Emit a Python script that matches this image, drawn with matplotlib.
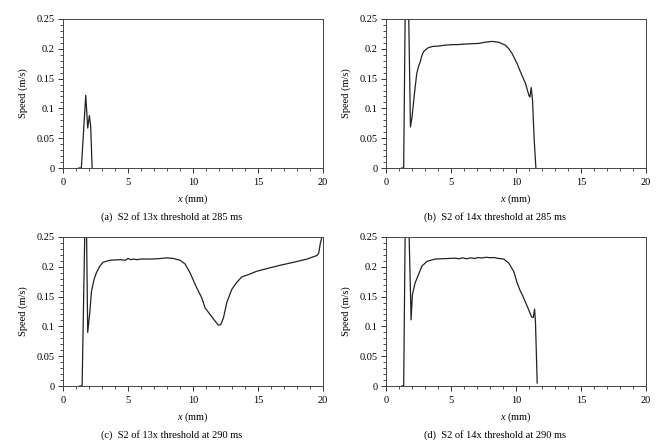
import matplotlib.pyplot as plt
from matplotlib.ticker import MultipleLocator, FuncFormatter

plt.rcParams['font.family'] = ['Liberation Serif', 'DejaVu Serif']
plt.rcParams['mathtext.fontset'] = 'custom'
plt.rcParams['mathtext.it'] = 'Liberation Serif:italic'
plt.rcParams['mathtext.rm'] = 'Liberation Serif'

# ---- data ----
xa = [1.21, 1.41, 1.75, 1.90, 2.03, 2.13, 2.24]
ya = [0.0, 0.0, 0.122, 0.067, 0.088, 0.070, 0.0]

xb = [1.21, 1.36, 1.47, 1.62, 1.75, 1.88, 2.00, 2.11, 2.24, 2.37, 2.50, 2.63, 2.75, 2.88,
      3.08, 3.27, 3.60, 4.04, 4.50, 5.07, 5.50, 6.10, 6.60, 7.13, 7.60, 8.16, 8.67, 9.19,
      9.45, 9.70, 10.09, 10.35, 10.73, 10.99, 11.07, 11.17, 11.27, 11.40, 11.53]
yb = [0.0, 0.0, 0.25, 0.30, 0.25, 0.069, 0.085, 0.108, 0.135, 0.159, 0.170, 0.178, 0.188, 0.195,
      0.199, 0.202, 0.204, 0.2046, 0.206, 0.207, 0.207, 0.208, 0.2085, 0.209, 0.211, 0.2124, 0.211, 0.206,
      0.200, 0.192, 0.175, 0.161, 0.142, 0.122, 0.119, 0.135, 0.114, 0.047, 0.0]

xc = [1.29, 1.47, 1.67, 1.80, 1.90, 2.06, 2.19, 2.39, 2.57, 2.83, 3.08, 3.60, 4.37, 4.80,
      5.00, 5.20, 5.40, 5.70, 6.00, 6.68, 7.30, 7.97, 8.48, 9.00, 9.38, 9.77, 10.28, 10.67,
      10.93, 11.31, 11.70, 11.95, 12.13, 12.34, 12.60, 12.98, 13.37, 13.75, 14.27, 14.90, 15.68,
      16.71, 17.74, 18.77, 19.54, 19.67, 19.80, 19.92, 20.0]
yc = [0.0, 0.0, 0.25, 0.28, 0.090, 0.123, 0.159, 0.179, 0.190, 0.201, 0.2076, 0.211, 0.212, 0.211,
      0.214, 0.212, 0.213, 0.212, 0.213, 0.213, 0.2135, 0.215, 0.214, 0.211, 0.205, 0.190, 0.165, 0.148,
      0.131, 0.120, 0.109, 0.102, 0.103, 0.114, 0.140, 0.162, 0.174, 0.183, 0.187, 0.1925, 0.197,
      0.2026, 0.2076, 0.213, 0.219, 0.223, 0.240, 0.250, 0.27]

xd = [1.21, 1.36, 1.47, 1.62, 1.78, 1.93, 2.03, 2.24, 2.50, 2.75, 3.14, 3.78, 4.81, 5.30,
      5.60, 5.90, 6.20, 6.50, 6.80, 7.10, 7.39, 7.70, 8.00, 8.30, 8.67, 9.06, 9.45, 9.83,
      10.09, 10.30, 10.48, 10.86, 11.20, 11.33, 11.43, 11.50, 11.63]
yd = [0.0, 0.0, 0.25, 0.30, 0.25, 0.111, 0.153, 0.173, 0.187, 0.2008, 0.209, 0.213, 0.214, 0.2145,
      0.2135, 0.215, 0.2135, 0.215, 0.214, 0.2155, 0.2148, 0.216, 0.2153, 0.2155, 0.214, 0.213, 0.206, 0.192,
      0.173, 0.161, 0.153, 0.134, 0.116, 0.115, 0.129, 0.106, 0.005]

captions = ['(a)  S2 of 13x threshold at 285 ms',
            '(b)  S2 of 14x threshold at 285 ms',
            '(c)  S2 of 13x threshold at 290 ms',
            '(d)  S2 of 14x threshold at 290 ms']

W, H = 666, 447
fig = plt.figure(figsize=(W / 100, H / 100), dpi=100)

# axes boxes in pixels: left, right, top, bottom
boxes = [(63, 323, 19, 168), (386, 646, 19, 168),
         (63, 323, 237, 386), (386, 646, 237, 386)]
cap_y = [217, 217, 435, 435]
series = [(xa, ya), (xb, yb), (xc, yc), (xd, yd)]

fs = 7.5
for (l, r, t, b), (xs, ys), cap, cy in zip(boxes, series, captions, cap_y):
    ax = fig.add_axes([l / W, 1 - b / H, (r - l) / W, (b - t) / H])
    ax.plot(xs, ys, color='#222222', lw=0.9)
    ax.set_xlim(0, 20)
    ax.set_ylim(0, 0.25)
    ax.xaxis.set_major_locator(MultipleLocator(5))
    ax.xaxis.set_minor_locator(MultipleLocator(1))
    ax.yaxis.set_major_locator(MultipleLocator(0.05))
    ax.yaxis.set_minor_locator(MultipleLocator(0.01))
    ax.yaxis.set_major_formatter(FuncFormatter(lambda v, p: f'{v:.2f}'.rstrip('0').rstrip('.') if v else '0'))
    ax.tick_params(which='major', direction='out', length=3.5, width=0.7, labelsize=fs, pad=2.5,
                   top=False, right=False, color='#333333')
    ax.tick_params(which='minor', direction='out', length=2, width=0.6, top=False, right=False,
                   color='#333333')
    ax.tick_params(axis='x', which='major', pad=4)
    for s in ax.spines.values():
        s.set_linewidth(0.7)
        s.set_color('#444444')
    ax.set_xlabel('$x$ (mm)', fontsize=fs, labelpad=4)
    ax.set_ylabel('Speed (m/s)', fontsize=fs, labelpad=6)
    cx = (l + r) / 2 - 21
    fig.text(cx / W, 1 - cy / H, cap, fontsize=fs, ha='center', va='center')

fig.savefig('out.png', dpi=100)
